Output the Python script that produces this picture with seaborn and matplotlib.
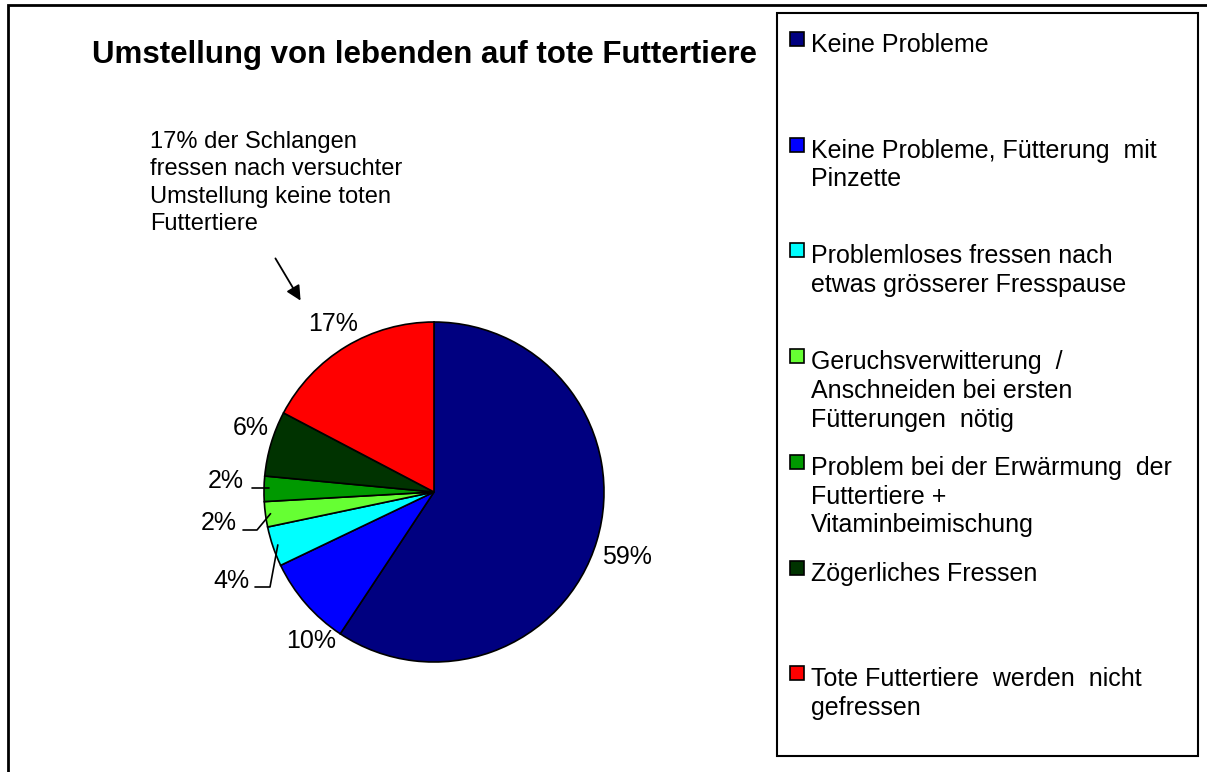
import matplotlib
matplotlib.use("Agg")
import matplotlib.pyplot as plt
import seaborn as sns
import numpy as np
from matplotlib.patches import Rectangle

# ---- data ----
categories = [
    "Keine Probleme",
    "Keine Probleme, Fütterung  mit\nPinzette",
    "Problemloses fressen nach\netwas grösserer Fresspause",
    "Geruchsverwitterung  /\nAnschneiden bei ersten\nFütterungen  nötig",
    "Problem bei der Erwärmung  der\nFuttertiere +\nVitaminbeimischung",
    "Zögerliches Fressen",
    "Tote Futtertiere  werden  nicht\ngefressen",
]
# slice sizes
values = [59.3, 8.6, 3.8, 2.4, 2.4, 6.2, 17.3]
pct_labels = ["59%", "10%", "4%", "2%", "2%", "6%", "17%"]
colors = ["#000080", "#0000FF", "#00FFFF", "#66FF33", "#009900", "#003300", "#FF0000"]
title = "Umstellung von lebenden auf tote Futtertiere"
note = "17% der Schlangen\nfressen nach versuchter\nUmstellung keine toten\nFuttertiere"

sns.set_theme(style="white")
plt.rcParams['font.family'] = ['Liberation Sans', 'DejaVu Sans']

W, H = 1207, 772
fig = plt.figure(figsize=(W / 100, H / 100), dpi=100)
fig.patch.set_facecolor("white")


def fx(px):
    return px / W


def fy(py):
    return 1 - py / H


# pie axes: centre (434, 492) px, radius 170 px
cx, cy, R = 434, 492, 170
ax = fig.add_axes([fx(cx - R), fy(cy + R), 2 * R / W, 2 * R / H])
wedges, _ = ax.pie(values, colors=colors, startangle=90, counterclock=False,
                   wedgeprops=dict(edgecolor="black", linewidth=1.2))
ax.set_xlim(-1, 1)
ax.set_ylim(-1, 1)
ax.set_aspect("equal")
ax.axis("off")


def d(px, py):
    return ((px - cx) / R, (cy - py) / R)


FS = 18
# percentage labels (label centre positions in px)
label_px = [(627, 557), (311, 641), None, None, None, (251, 428), (333, 324)]
for i, lab in enumerate(pct_labels):
    if label_px[i] is not None:
        x, y = d(*label_px[i])
        ax.text(x, y, lab, ha="center", va="center", fontsize=FS, color="black", clip_on=False)

# small slices with leader lines
mids = []
start = 90.0
for v in values:
    ang = 360.0 * v / sum(values)
    mids.append(np.deg2rad(start - ang / 2))
    start -= ang

leaders = {
    2: [(270, 587), (255, 587)],
    3: [(257, 530), (243, 530)],
    4: [(252, 488)],
}
label_right = {2: (249, 581), 3: (237, 523), 4: (244, 481)}
for i, pts in leaders.items():
    th = mids[i]
    xs = [0.97 * np.cos(th)] + [d(*p)[0] for p in pts]
    ys = [0.97 * np.sin(th)] + [d(*p)[1] for p in pts]
    if i == 4:
        ys[0] = ys[-1]
    ax.plot(xs, ys, color="black", lw=1.2, clip_on=False)
    x, y = d(*label_right[i])
    ax.text(x, y, pct_labels[i], ha="right", va="center", fontsize=FS, color="black", clip_on=False)

# title
fig.text(fx(425), fy(63), title, ha="center", va="baseline", fontsize=22.5,
         fontweight="bold", color="black")

# note + arrow
fig.text(fx(150), fy(131), note, ha="left", va="top", fontsize=17,
         color="black", linespacing=1.32)
ax.annotate("", xy=(fx(302), fy(303)), xytext=(fx(274), fy(256)),
            xycoords="figure fraction", textcoords="figure fraction",
            arrowprops=dict(arrowstyle="-|>", color="black", lw=1.3, mutation_scale=22))

# outer frame
fig.add_artist(Rectangle((fx(8), fy(790)), (1230 - 8) / W, (790 - 5) / H,
                         transform=fig.transFigure, fill=False, edgecolor="black", lw=2))

# legend box
fig.add_artist(Rectangle((fx(777), fy(756)), (1198 - 777) / W, (756 - 13) / H,
                         transform=fig.transFigure, fill=False, edgecolor="black", lw=1.5))

step = 105.7
for i, (cat, col) in enumerate(zip(categories, colors)):
    top = 32 + step * i
    fig.add_artist(Rectangle((fx(790), fy(top + 14)), 14 / W, 14 / H,
                             transform=fig.transFigure, facecolor=col,
                             edgecolor="black", lw=1.2))
    fig.text(fx(811), fy(top + 1), cat, ha="left", va="top",
             fontsize=FS, color="black", linespacing=1.25)

fig.savefig("out.png", dpi=100, facecolor="white")
